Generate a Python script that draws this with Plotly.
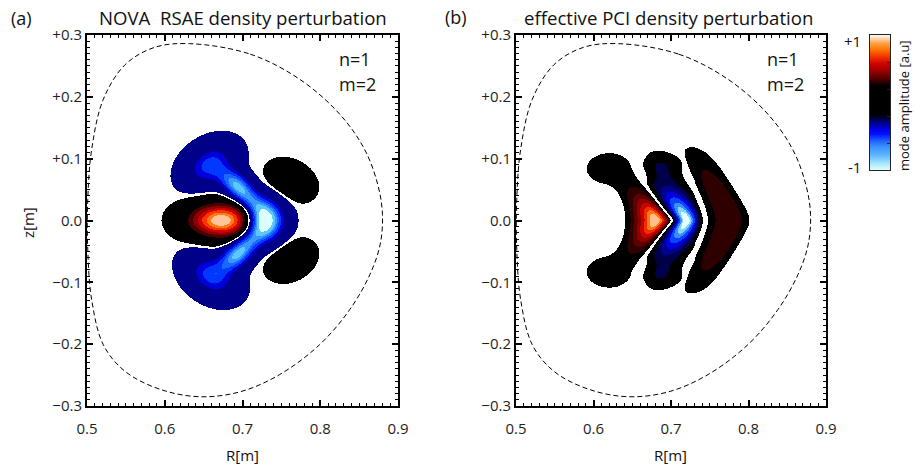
import numpy as np
import plotly.graph_objects as go

# ---------------- sampling grid (metres), about one screen pixel per cell ----------------
R_LO, R_HI = 0.555, 0.835
Z_LO, Z_HI = -0.17, 0.17
DR = 0.4 / 311
DZ = 0.6 / 371
R = np.arange(R_LO, R_HI, DR)
Z = np.arange(Z_LO, Z_HI, DZ)
RR, ZZ = np.meshgrid(R, Z)

# ---------------- (a) NOVA RSAE mode: tilted Gaussian lobes ----------------
nova_R0 = [0.673, 0.729, 0.711, 0.711, 0.692, 0.692, 0.658, 0.660, 0.762, 0.762]
nova_z0 = [0.000, 0.000, 0.031, -0.031, 0.058, -0.058, 0.090, -0.090, 0.064, -0.064]
nova_sa = [0.027, 0.0155, 0.020, 0.020, 0.020, 0.020, 0.024, 0.024, 0.019, 0.019]
nova_sb = [0.018, 0.022, 0.010, 0.010, 0.0115, 0.0115, 0.017, 0.017, 0.0145, 0.0145]
nova_tilt = [0, 0, 128, -128, 128, -128, 53, -53, -50, 50]
nova_amp = [1.15, -1.10, -0.40, -0.40, -0.72, -0.72, -0.50, -0.50, 0.25, 0.25]

# ---------------- (b) effective PCI mode: chevron shaped radial bands ----------------
pci_left0 = [0.637, 0.7010, 0.7470]
pci_right0 = [0.6995, 0.7445, 0.8035]
pci_amp = [1.0, -1.0, 0.22]
pci_skew = [1.8, 0.82, 1.0]
pci_sharp = [1.0, 2.0, 1.0]
pci_left_a = [29.7, 0.499, 0.99]
pci_left_p = [2.52, 0.909, 1.45]
pci_left_d = [0.0, 0.004, 0.0]
pci_left_cap = [0.05, 0.036, 1.0]
pci_right_a = [0.499, 0.99, 0.54]
pci_right_p = [0.909, 1.45, 1.03]
pci_right_d = [0.004, 0.0, 0.012]
pci_zsig = [0.026, 0.034, 0.080]
pci_zpow = [2, 2, 4]
pci_arm_amp = [0.045, 0.045, 0.0]
pci_arm_z = [0.075, 0.085, 0.0]
pci_arm_sig = [0.014, 0.013, 0.01]
# rounded arm ends of the two inner bands
pci_end_R0 = [0.621, 0.621, 0.688, 0.688]
pci_end_z0 = [0.083, -0.083, 0.090, -0.090]
pci_end_sr = [0.018, 0.018, 0.016, 0.016]
pci_end_sz = [0.015, 0.015, 0.012, 0.012]
pci_end_amp = [0.075, 0.075, -0.075, -0.075]

# ---------------- filled contour levels and their colours ----------------
nova_pos_levels = [0.02, 0.33, 0.47, 0.62, 0.76, 0.90, 1.02]
nova_pos_colors = ['#000000', '#4a0000', '#8c0000', '#cc0000', '#f83400', '#ff7c14', '#ffc49c']
nova_neg_levels = [0.02, 0.32, 0.45, 0.57, 0.68, 0.78, 0.92]
nova_neg_colors = ['#000088', '#0000dc', '#0038ff', '#1c68ff', '#3a98ff', '#5cc8ff', '#dcffff']

pci_pos_levels = [0.02, 0.13, 0.26, 0.40, 0.55, 0.70, 0.82, 0.92]
pci_pos_colors = ['#000000', '#2e0000', '#5c0000', '#900000', '#c80000', '#f02c00', '#ff7a10', '#ffc08e']
pci_neg_levels = [0.02, 0.13, 0.26, 0.40, 0.55, 0.70, 0.82, 0.92]
pci_neg_colors = ['#000000', '#00004a', '#000090', '#0000e0', '#0a44ff', '#3a8cff', '#80d4ff', '#e6ffff']

# ---------------- plasma boundary (dashed) ----------------
bnd_R = [0.632, 0.710, 0.774, 0.825, 0.857, 0.874, 0.880, 0.877, 0.864, 0.838, 0.799,
         0.748, 0.697, 0.645, 0.594, 0.549, 0.521, 0.506, 0.501, 0.501, 0.506, 0.521,
         0.549, 0.587]
bnd_z = [0.286, 0.269, 0.228, 0.172, 0.115, 0.058, 0.010, -0.039, -0.087, -0.144, -0.201,
         -0.249, -0.277, -0.285, -0.273, -0.244, -0.201, -0.128, -0.047, 0.034, 0.115, 0.196,
         0.252, 0.280]

# ---------------- colour bar ----------------
cbar_scale = [
    [0.000, '#e8ffff'], [0.050, '#a8e8ff'], [0.110, '#60b8ff'], [0.175, '#3a90ff'],
    [0.220, '#2060ff'], [0.270, '#0010ff'], [0.310, '#0000e0'], [0.360, '#000080'],
    [0.390, '#000030'], [0.420, '#000000'], [0.625, '#000000'], [0.640, '#150000'],
    [0.690, '#600000'], [0.740, '#a00000'], [0.790, '#d00000'], [0.840, '#f03000'],
    [0.890, '#ff7000'], [0.940, '#ffa040'], [1.000, '#fff4ec']]
cbar_vals = np.linspace(-1.0, 1.0, 271)


def lobe(R0, z0, sa, sb, tilt, amp):
    t = np.deg2rad(tilt)
    dx, dz = RR - R0, ZZ - z0
    u = dx * np.cos(t) + dz * np.sin(t)
    v = -dx * np.sin(t) + dz * np.cos(t)
    return amp * np.exp(-0.5 * (u / sa) ** 2 - 0.5 * (v / sb) ** 2)


def edge_offset(z, a, p, d, cap=1.0):
    r = np.sqrt(z * z + d * d) - d
    return np.minimum(a * r ** p, cap)


def nova_field():
    F = np.zeros_like(RR)
    for args in zip(nova_R0, nova_z0, nova_sa, nova_sb, nova_tilt, nova_amp):
        F += lobe(*args)
    return F


def pci_field():
    F = np.zeros_like(RR)
    az = np.abs(ZZ)
    for i in range(len(pci_amp)):
        left = pci_left0[i] - edge_offset(ZZ, pci_left_a[i], pci_left_p[i], pci_left_d[i], pci_left_cap[i])
        right = pci_right0[i] - edge_offset(ZZ, pci_right_a[i], pci_right_p[i], pci_right_d[i])
        t = (RR - left) / (right - left)
        inside = (t > 0) & (t < 1)
        prof = np.sin(np.pi * np.clip(t, 0, 1) ** pci_skew[i]) ** pci_sharp[i]
        env = np.exp(-0.5 * (az / pci_zsig[i]) ** pci_zpow[i])
        env += pci_arm_amp[i] * np.exp(-0.5 * ((az - pci_arm_z[i]) / pci_arm_sig[i]) ** 2)
        F += np.where(inside, pci_amp[i] * prof * env, 0.0)
    for args in zip(pci_end_R0, pci_end_z0, pci_end_sr, pci_end_sz, [0] * 4, pci_end_amp):
        F += lobe(*args)
    return F


def band_index(F, pos_levels, neg_levels):
    idx = np.zeros(F.shape, dtype=np.int8)
    for i, lv in enumerate(pos_levels):
        idx[F >= lv] = 1 + i
    off = 1 + len(pos_levels)
    for i, lv in enumerate(neg_levels):
        idx[F <= -lv] = off + i
    # thin white line along the zero crossing
    pos = F > 0
    touch = np.zeros_like(pos)
    touch[:, 1:] |= pos[:, :-1]
    touch[:, :-1] |= pos[:, 1:]
    touch[1:, :] |= pos[:-1, :]
    touch[:-1, :] |= pos[1:, :]
    idx[(F < 0) & touch] = 0
    return idx


def step_scale(colors):
    n = len(colors)
    cs = []
    for i, c in enumerate(colors):
        cs.append([i / n, c])
        cs.append([(i + 1) / n, c])
    return cs


colors_a = ['#ffffff'] + nova_pos_colors + nova_neg_colors
colors_b = ['#ffffff'] + pci_pos_colors + pci_neg_colors
idx_a = band_index(nova_field(), nova_pos_levels, nova_neg_levels)
idx_b = band_index(pci_field(), pci_pos_levels, pci_neg_levels)

fig = go.Figure()
for idx, cols, xa, ya in [(idx_a, colors_a, 'x', 'y'), (idx_b, colors_b, 'x2', 'y2')]:
    fig.add_trace(go.Heatmap(
        z=idx, x0=float(R[0]), dx=DR, y0=float(Z[0]), dy=DZ,
        colorscale=step_scale(cols), zmin=-0.5, zmax=len(cols) - 0.5,
        showscale=False, hoverinfo='skip', zsmooth=False, xaxis=xa, yaxis=ya))
    fig.add_trace(go.Scatter(
        x=bnd_R + [bnd_R[0]], y=bnd_z + [bnd_z[0]], mode='lines',
        line=dict(color='black', width=1, dash='5px,3px', shape='spline', smoothing=1.0),
        hoverinfo='skip', xaxis=xa, yaxis=ya))

# colour bar strip
fig.add_trace(go.Heatmap(
    z=[[v] for v in cbar_vals], x=[0.0], y=cbar_vals, colorscale=cbar_scale,
    zmin=-1, zmax=1, showscale=False, hoverinfo='skip', zsmooth='best',
    xaxis='x3', yaxis='y3'))

W, H = 915, 470
x_dom_a = [87 / W, 398 / W]
x_dom_b = [516 / W, 826 / W]
y_dom = [1 - 406 / H, 1 - 35 / H]

tick_font = dict(family='Open Sans', size=15, color='#1e1e1e')
common = dict(showgrid=False, zeroline=False, showline=True, linecolor='black', linewidth=2,
              mirror='ticks', ticks='inside', ticklen=6, tickwidth=1.5, tickcolor='black',
              tickfont=tick_font, automargin=False)
x_common = dict(common, range=[0.5, 0.9], tickmode='linear', tick0=0.5, dtick=0.1,
                tickformat='.1f', ticklabelstandoff=8,
                minor=dict(ticks='inside', ticklen=3, tickwidth=1, tickcolor='black',
                           tick0=0.5, dtick=0.01))
y_ticks = [-0.3, -0.2, -0.1, 0.0, 0.1, 0.2, 0.3]
y_text = ['\u22120.3', '\u22120.2', '\u22120.1', '0.0', '+0.1', '+0.2', '+0.3']
y_common = dict(common, range=[-0.3, 0.3], tickmode='array', tickvals=y_ticks, ticktext=y_text,
                minor=dict(ticks='inside', ticklen=3, tickwidth=1, tickcolor='black',
                           tick0=-0.3, dtick=0.01))

fig.update_layout(
    width=W, height=H, margin=dict(l=0, r=0, t=0, b=0, autoexpand=False),
    paper_bgcolor='white', plot_bgcolor='white', showlegend=False,
    font=dict(family='Open Sans', size=14, color='#1e1e1e'),
    xaxis=dict(x_common, domain=x_dom_a, anchor='y'),
    yaxis=dict(y_common, domain=y_dom, anchor='x'),
    xaxis2=dict(x_common, domain=x_dom_b, anchor='y2'),
    yaxis2=dict(y_common, domain=y_dom, anchor='x2'),
    xaxis3=dict(domain=[870 / W, 890 / W], range=[-0.5, 0.5], anchor='y3', showgrid=False,
                zeroline=False, showline=True, linecolor='#222', linewidth=1, mirror=True,
                showticklabels=False, ticks='', automargin=False),
    yaxis3=dict(domain=[1 - 170 / H, 1 - 35 / H], range=[-1, 1], anchor='x3', side='right',
                showgrid=False, zeroline=False, showline=True, linecolor='#222', linewidth=1,
                mirror=True, ticks='inside', ticklen=3, tickwidth=1, tickcolor='#222',
                tickmode='array', tickvals=[-0.6, -0.2, 0.2, 0.6], showticklabels=False,
                automargin=False),
)


def label(text, x, y, size, xanchor='center', angle=0, xref='paper', yref='paper'):
    fig.add_annotation(text=text, x=x, y=y, xref=xref, yref=yref, showarrow=False,
                       xanchor=xanchor, yanchor='middle', textangle=angle,
                       font=dict(family='Open Sans', size=size, color='#111'))


label('(a)', 21 / W, 1 - 18 / H, 18)
label('NOVA\u00a0 RSAE density perturbation', 242.5 / W, 1 - 18 / H, 18.6)
label('(b)', 456 / W, 1 - 17 / H, 18)
label('effective PCI density perturbation', 668 / W, 1 - 18 / H, 18.6)
label('z[m]', 28 / W, 1 - 223 / H, 15, angle=-90)
label('R[m]', 242 / W, 1 - 455 / H, 15)
label('R[m]', 670 / W, 1 - 455 / H, 15)
for xr, yr in [('x', 'y'), ('x2', 'y2')]:
    label('n=1', 0.8213, 0.2605, 18, xanchor='left', xref=xr, yref=yr)
    label('m=2', 0.8213, 0.2200, 18, xanchor='left', xref=xr, yref=yr)
label('+1', 863 / W, 1 - 41 / H, 15, xanchor='right')
label('-1', 863 / W, 1 - 167 / H, 15, xanchor='right')
label('mode amplitude [a.u]', 904 / W, 1 - 106 / H, 13, angle=-90)

fig.write_html('out.html')
